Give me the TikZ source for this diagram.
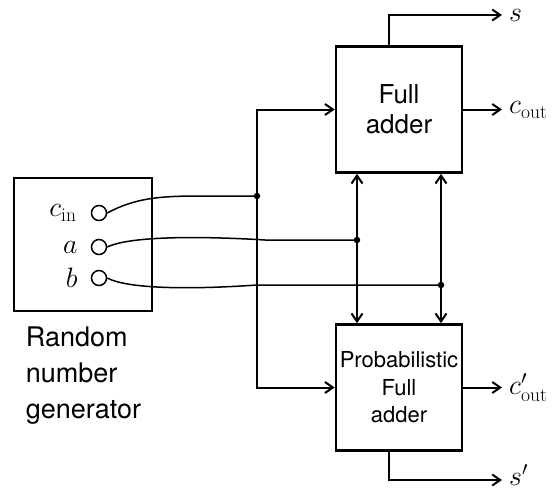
\RequirePackage{fix-cm}
\documentclass[tikz,border=0pt]{standalone}
\usepackage{fontspec}
\newfontfamily\helv{TeX Gyre Heros}
\usetikzlibrary{arrows.meta,positioning}
\tikzset{
  >={Straight Barb[length=8pt,width=11pt]},
  line join=miter,
  block/.style={draw, line width=2.6pt, minimum width=126pt, minimum height=126pt, align=center, inner sep=0pt,
    font=\helv\fontsize{26}{30}\selectfont},
  port/.style={draw, circle, line width=1.5pt, minimum size=15pt, inner sep=0pt},
  wire/.style={line width=2pt},
  lead/.style={line width=1.5pt},
  arrow/.style={->, line width=2pt},
  dot/.style={circle, fill, inner sep=2.3pt},
  sig/.style={font=\fontsize{28}{32}\selectfont, inner xsep=4pt, inner ysep=1pt}
}
\begin{document}
\begin{tikzpicture}[x=1pt,y=-1pt]
  \useasboundingbox (0,0) rectangle (559,490);

  % random number generator
  \node[block, minimum width=138pt, minimum height=133pt] (rng) at (83,244.5) {};
  \node[port] (pcin) at (99,213) {};
  \node[port] (pa) at (99,247) {};
  \node[port] (pb) at (99,278) {};
  \node[sig, inner sep=0pt, left=14pt of pcin] (lcin) {$c_{\mathrm{in}}$};
  \node[sig, inner sep=0pt, left=13pt of pa] (la) {$a$};
  \node[sig, inner sep=0pt, left=13pt of pb] (lb) {$b$};
  \node[anchor=north west, align=left, inner sep=0pt, font=\helv\fontsize{27}{36}\selectfont]
    (rngname) at ([xshift=13pt,yshift=-14pt]rng.south west) {Random\\number\\generator};

  % adders
  \node[block] (fa) at (399,109.5) {Full\\adder};
  \node[block, font=\helv\fontsize{22}{27.5}\selectfont] (pfa) at (399,387.5) {Probabilistic\\Full\\adder};

  % junctions
  \node[dot] (jcin) at (257,196) {};
  \node[dot] (ja) at (357,240) {};
  \node[dot] (jb) at (441,285) {};

  % leads from the generator
  \draw[lead] (pcin.east) .. controls (135,198) and (160,196) .. (200,196) -- (jcin.center);
  \draw[lead] (pa.east) .. controls (130,236) and (200,236) .. (265,240) -- (ja.center);
  \draw[lead] (pb.east) .. controls (130,290) and (200,289) .. (257,285) -- (jb.center);

  % carry-in bus
  \draw[arrow] (jcin.center) |- (fa.west);
  \draw[arrow] (jcin.center) |- (pfa.west);

  % a and b to both adders
  \draw[wire,<->] (fa.south -| ja) -- (pfa.north -| ja);
  \draw[wire,<->] (fa.south -| jb) -- (pfa.north -| jb);

  % outputs
  \node[sig, anchor=west] (s) at (505,15) {$s$};
  \node[sig, anchor=west] (cout) at (505,110) {$c_{\mathrm{out}}$};
  \node[sig, anchor=west] (coutp) at (505,388) {$c'_{\mathrm{out}}$};
  \node[sig, anchor=west, inner ysep=0pt] (sp) at (505,475) {$s'$};

  \draw[arrow] ([xshift=-10pt]fa.north) |- ([xshift=-3pt]s.west);
  \draw[arrow] (fa.east) -- ([xshift=-3pt]fa.east -| cout.west);
  \draw[arrow] (pfa.east) -- ([xshift=-3pt]pfa.east -| coutp.west);
  \draw[arrow] ([xshift=-10pt]pfa.south) |- ([xshift=-3pt,yshift=-5pt]sp.west);
\end{tikzpicture}
\end{document}
